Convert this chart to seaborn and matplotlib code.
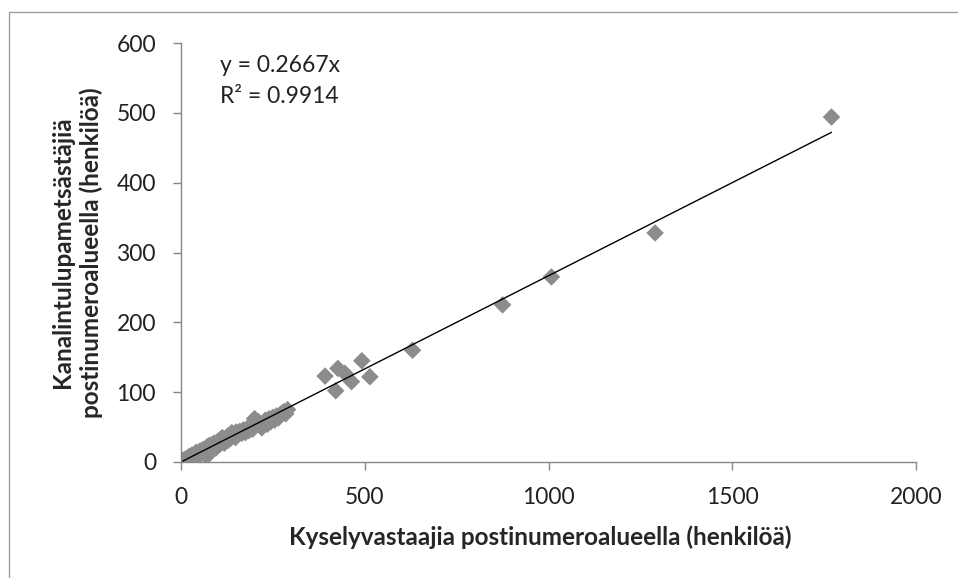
import matplotlib
matplotlib.use("Agg")
import matplotlib.pyplot as plt
import matplotlib.patches as patches
import numpy as np
import pandas as pd
import seaborn as sns

# respondents per postcode area (x) vs. licence hunters (y)
respondents = [5, 8, 10, 12, 15, 18, 20, 22, 25, 28, 30, 32, 35, 38, 40, 42, 45, 48,
               50, 52, 55, 58, 60, 62, 65, 68, 70, 72, 75, 78, 80, 82, 85, 88, 90, 92,
               95, 98, 100, 102, 105, 108, 110, 112, 115, 118, 120, 125, 128, 130, 135,
               138, 140, 145, 148, 150, 155, 160, 165, 170, 175, 180, 185, 190, 195,
               200, 205, 210, 215, 220, 225, 230, 235, 240, 245, 250, 255, 260, 265,
               270, 275, 280, 285, 290,
               392, 421, 427, 446, 464, 492, 514, 630, 875, 1008, 1290, 1770]
hunters = [2, 3, 1, 4, 5, 3, 6, 8, 5, 7, 10, 4, 9, 12, 8, 14, 11, 9,
           13, 16, 12, 15, 18, 14, 17, 20, 8, 22, 19, 24, 21, 18, 25, 22, 27, 24,
           20, 28, 26, 30, 25, 32, 28, 35, 30, 27, 33, 36, 31, 38, 34,
           42, 37, 40, 35, 43, 39, 44, 41, 46, 42, 48, 45, 50, 47,
           62, 55, 58, 52, 49, 56, 60, 54, 62, 58, 64, 60, 66, 63,
           68, 70, 72, 69, 75,
           123, 102, 134, 127, 115, 145, 122, 160, 225, 265, 328, 494]

slope = 0.2667
r2 = 0.9914
x_ticks = [0, 500, 1000, 1500, 2000]
y_ticks = [0, 100, 200, 300, 400, 500, 600]

df = pd.DataFrame({"x": respondents, "y": hunters})

sns.set_style("white")
plt.rcParams["font.family"] = ["Lato", "DejaVu Sans"]

fig = plt.figure(figsize=(9.58, 5.78), dpi=100)
ax = fig.add_axes([181 / 958, 1 - 462 / 578, (916 - 181) / 958, (462 - 43) / 578])

sns.scatterplot(data=df, x="x", y="y", marker="D", s=80, color="#8c8c8c",
                edgecolor="none", ax=ax, zorder=2)

# trendline through origin, spanning the data range
line_x = np.array([min(respondents), max(respondents)])
ax.plot(line_x, slope * line_x, color="black", linewidth=1, zorder=3)

ax.set_xlim(0, 2000)
ax.set_ylim(0, 600)
ax.set_xticks(x_ticks)
ax.set_yticks(y_ticks)
ax.tick_params(axis="both", direction="out", length=6, width=1, color="#868686",
               labelsize=16.5, labelcolor="#222222", pad=12, left=True, bottom=True)
for side in ["top", "right"]:
    ax.spines[side].set_visible(False)
for side in ["left", "bottom"]:
    ax.spines[side].set_color("#868686")
    ax.spines[side].set_linewidth(1)

ax.set_xlabel("Kyselyvastaajia postinumeroalueella (henkilöä)", fontsize=17.5,
              fontweight="bold", va="center")
ax.xaxis.set_label_coords((540 - 181) / 735, -(537 - 462) / 419)
ax.set_ylabel("Kanalintulupametsästäjiä\npostinumeroalueella (henkilöä)", fontsize=17.5,
              fontweight="bold", va="center", linespacing=1.3)
ax.yaxis.set_label_coords(-(181 - 77) / 735, 0.5)

ax.text(0.053, 0.947, f"y = {slope}x", transform=ax.transAxes, fontsize=16.5,
        va="center", ha="left", color="#222222")
ax.text(0.053, 0.873, f"R² = {r2}", transform=ax.transAxes, fontsize=16.5,
        va="center", ha="left", color="#222222")

# outer chart frame (only left and top edges fall inside the image)
frame = patches.Rectangle((9 / 958, -0.1), 1.1, 1.1 - 12 / 578,
                          transform=fig.transFigure, fill=False,
                          edgecolor="#a0a0a0", linewidth=1)
fig.patches.append(frame)

fig.savefig("out.png", dpi=100)
